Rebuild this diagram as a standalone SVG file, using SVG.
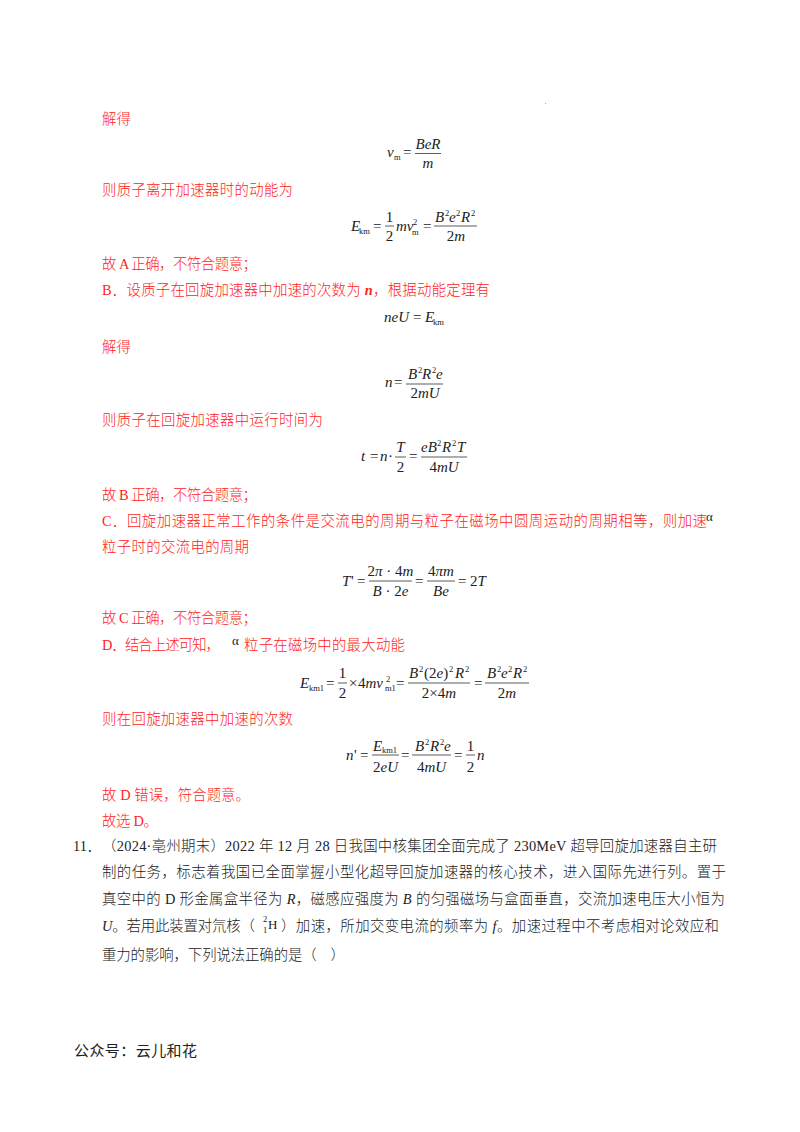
<svg xmlns="http://www.w3.org/2000/svg" width="800" height="1132" viewBox="0 0 800 1132">
<style>
text{white-space:pre}
.r,.k{font-family:"Liberation Serif","Noto Sans CJK SC",sans-serif;font-size:14.4px;font-weight:300}
.r{fill:#f22}
.k{fill:#222}
.f{font-family:"Noto Sans CJK SC",sans-serif;font-size:15px;fill:#222}
.m{font-family:"Liberation Serif",serif;font-size:15px;font-style:italic;fill:#222}
.u{font-family:"Liberation Serif",serif;font-size:15px;fill:#222}
.s{font-family:"Liberation Serif",serif;font-size:8.5px;fill:#222}
.c{text-anchor:middle}
.l{stroke:#333;stroke-width:.8;fill:none}
.a{font-family:"Liberation Serif",serif;font-size:13px;fill:#222}
</style>
<rect width="800" height="1132" fill="#fff"/>
<rect x="545" y="103" width="1" height="1" fill="#aaa"/>

<g id="answer-text">
<text class="r" x="102" y="124" textLength="29">解得</text>
<text class="r" x="102" y="195" textLength="191">则质子离开加速器时的动能为</text>
<text class="r" x="102" y="269" textLength="155">故 A 正确，不符合题意；</text>
<text class="r" x="102" y="295" textLength="388">B．设质子在回旋加速器中加速的次数为 <tspan font-style="italic" font-weight="700">n</tspan>，根据动能定理有</text>
<text class="r" x="102" y="352" textLength="29">解得</text>
<text class="r" x="102" y="425" textLength="221">则质子在回旋加速器中运行时间为</text>
<text class="r" x="102" y="500" textLength="155">故 B 正确，不符合题意；</text>
<text class="r" x="102" y="526" textLength="605">C．回旋加速器正常工作的条件是交流电的周期与粒子在磁场中圆周运动的周期相等，则加速</text>
<text class="a" x="706" y="521">α</text>
<text class="r" x="102" y="552" textLength="147">粒子时的交流电的周期</text>
<text class="r" x="102" y="623" textLength="155">故 C 正确，不符合题意；</text>
<text class="r" x="102" y="650" textLength="118">D．结合上述可知，</text>
<text class="a" x="232" y="645">α</text>
<text class="r" x="244" y="650" textLength="161">粒子在磁场中的最大动能</text>
<text class="r" x="102" y="724" textLength="191">则在回旋加速器中加速的次数</text>
<text class="r" x="102" y="800" textLength="148">故 D 错误，符合题意。</text>
<text class="r" x="102" y="826" textLength="56">故选 D。</text>
</g>

<g id="formula-vm">
<text class="m" x="387" y="157">v</text><text class="s" x="394" y="160">m</text>
<text class="u" x="403" y="157">=</text>
<path class="l" d="M415 153.500H441"/>
<text class="m c" x="428" y="149">BeR</text><text class="m c" x="428" y="168">m</text>
</g>
<g id="formula-ekm">
<text class="m" x="351" y="231">E</text><text class="s" x="359" y="234">km</text>
<text class="u" x="373" y="231">=</text>
<path class="l" d="M385 226H394M434 226H477"/>
<text class="u c" x="389.500" y="222">1</text><text class="u c" x="389.500" y="241">2</text>
<text class="m" x="396" y="231">mv</text><text class="s" x="413" y="225">2</text><text class="s" x="412" y="235">m</text>
<text class="u" x="423" y="231">=</text>
<text class="m" x="435" y="222">B</text><text class="s" x="445" y="216">2</text><text class="m" x="449" y="222">e</text><text class="s" x="456" y="216">2</text><text class="m" x="461" y="222">R</text><text class="s" x="471" y="216">2</text>
<text class="m c" x="456" y="241"><tspan font-style="normal">2</tspan>m</text>
</g>
<g id="formula-neu">
<text class="m" x="384" y="322">neU</text><text class="u" x="413" y="322">=</text><text class="m" x="425" y="322">E</text><text class="s" x="433" y="325">km</text>
</g>
<g id="formula-n">
<text class="m" x="385" y="387">n</text><text class="u" x="394" y="387">=</text>
<path class="l" d="M406 384H443"/>
<text class="m" x="408" y="379">B</text><text class="s" x="418" y="373">2</text><text class="m" x="422" y="379">R</text><text class="s" x="432" y="373">2</text><text class="m" x="436" y="379">e</text>
<text class="m c" x="425" y="398"><tspan font-style="normal">2</tspan>mU</text>
</g>
<g id="formula-t">
<text class="m" x="361" y="461">t</text><text class="u" x="370" y="461">=</text><text class="m" x="380" y="461">n</text><text class="u" x="388" y="461">·</text>
<path class="l" d="M395 457H406M421 457H467"/>
<text class="m c" x="400.500" y="452">T</text><text class="u c" x="400.500" y="472">2</text>
<text class="u" x="409" y="461">=</text>
<text class="m" x="421" y="452">eB</text><text class="s" x="437" y="446">2</text><text class="m" x="442" y="452">R</text><text class="s" x="452" y="446">2</text><text class="m" x="457" y="452">T</text>
<text class="m c" x="444" y="472"><tspan font-style="normal">4</tspan>mU</text>
</g>
<g id="formula-tprime">
<text class="m" x="342" y="586">T</text><text class="u" x="351" y="586">'</text><text class="u" x="357" y="586">=</text>
<path class="l" d="M369 581H412M427 581H455"/>
<text class="m c" x="390.500" y="576"><tspan font-style="normal">2</tspan>π<tspan font-style="normal"> · 4</tspan>m</text>
<text class="m c" x="390.500" y="596">B<tspan font-style="normal"> · 2</tspan>e</text>
<text class="u" x="415" y="586">=</text>
<text class="m c" x="441" y="576"><tspan font-style="normal">4</tspan>πm</text><text class="m c" x="441" y="596">Be</text>
<text class="u" x="458" y="586">=</text><text class="m" x="470" y="586"><tspan font-style="normal">2</tspan>T</text>
</g>
<g id="formula-ekm1">
<text class="m" x="300" y="688">E</text><text class="s" x="309" y="691">km1</text>
<text class="u" x="326" y="688">=</text>
<path class="l" d="M338 683H347M408 683H470M485 683H529"/>
<text class="u c" x="342.500" y="678">1</text><text class="u c" x="342.500" y="698">2</text>
<text class="u" x="349" y="688">×</text><text class="m" x="358" y="688"><tspan font-style="normal">4</tspan>mv</text>
<text class="s" x="386" y="682">2</text><text class="s" x="385" y="691">m1</text>
<text class="u" x="396" y="688">=</text>
<text class="m" x="409" y="678">B</text><text class="s" x="419" y="672">2</text><text class="u" x="424" y="678">(2<tspan font-style="italic">e</tspan>)</text><text class="s" x="449" y="672">2</text><text class="m" x="455" y="678">R</text><text class="s" x="465" y="672">2</text>
<text class="m c" x="439" y="698"><tspan font-style="normal">2×4</tspan>m</text>
<text class="u" x="474" y="688">=</text>
<text class="m" x="487" y="678">B</text><text class="s" x="497" y="672">2</text><text class="m" x="501" y="678">e</text><text class="s" x="508" y="672">2</text><text class="m" x="513" y="678">R</text><text class="s" x="523" y="672">2</text>
<text class="m c" x="507" y="698"><tspan font-style="normal">2</tspan>m</text>
</g>
<g id="formula-nprime">
<text class="m" x="346" y="760">n</text><text class="u" x="354" y="760">'</text><text class="u" x="360" y="760">=</text>
<path class="l" d="M372 755H399M412 755H451M466 755H475"/>
<text class="m" x="373" y="751">E</text><text class="s" x="382" y="753">km1</text>
<text class="m c" x="385.500" y="772"><tspan font-style="normal">2</tspan>eU</text>
<text class="u" x="401" y="760">=</text>
<text class="m" x="415" y="751">B</text><text class="s" x="425" y="745">2</text><text class="m" x="430" y="751">R</text><text class="s" x="440" y="745">2</text><text class="m" x="444" y="751">e</text>
<text class="m c" x="431.500" y="772"><tspan font-style="normal">4</tspan>mU</text>
<text class="u" x="454" y="760">=</text>
<text class="u c" x="470.500" y="751">1</text><text class="u c" x="470.500" y="772">2</text>
<text class="m" x="477" y="760">n</text>
</g>

<g id="question-text">
<text class="k" x="73" y="851">11．</text>
<text class="k" x="102" y="851" textLength="615">（2024·亳州期末）2022 年 12 月 28 日我国中核集团全面完成了 230MeV 超导回旋加速器自主研</text>
<text class="k" x="102" y="877" textLength="624">制的任务，标志着我国已全面掌握小型化超导回旋加速器的核心技术，进入国际先进行列。置于</text>
<text class="k" x="102" y="904" textLength="623">真空中的 D 形金属盒半径为 <tspan font-style="italic">R</tspan>，磁感应强度为 <tspan font-style="italic">B</tspan> 的匀强磁场与盒面垂直，交流加速电压大小恒为</text>
<text class="k" x="102" y="931" textLength="153"><tspan font-style="italic">U</tspan>。若用此装置对氘核（</text>
<text class="s" x="263" y="922">2</text><text class="s" x="263" y="933">1</text><text class="a" x="268" y="929">H</text>
<text class="k" x="281" y="931" textLength="438">）加速，所加交变电流的频率为 <tspan font-style="italic">f</tspan>。加速过程中不考虑相对论效应和</text>
<text class="k" x="102" y="960" textLength="243">重力的影响，下列说法正确的是（    ）</text>
</g>
<g id="footer"><text class="f" x="74" y="1056" textLength="123">公众号：云儿和花</text></g>
</svg>
